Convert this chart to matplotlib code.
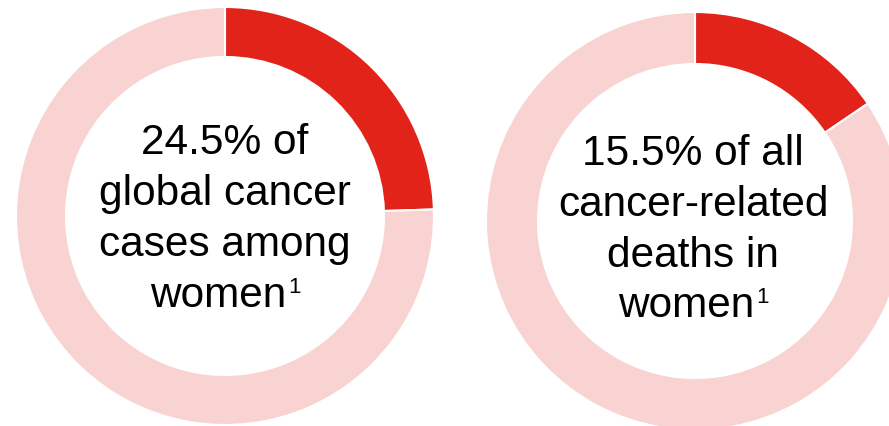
import matplotlib
matplotlib.use("Agg")
import matplotlib.pyplot as plt

# Data
cases_share = [24.5, 75.5]
deaths_share = [15.5, 84.5]
cases_lines = ["24.5% of", "global cancer", "cases among", "women"]
deaths_lines = ["15.5% of all", "cancer-related", "deaths in", "women"]
footnote_mark = "1"

RED = "#E2231A"
PINK = "#F8D3D1"
FONT = ["Liberation Sans", "DejaVu Sans"]

W, H = 889, 426
fig = plt.figure(figsize=(W / 100, H / 100), dpi=100)
ax = fig.add_axes([0, 0, 1, 1])

def py(y):
    return H - y

def fix_axes():
    ax.set_xlim(0, W)
    ax.set_ylim(0, H)
    ax.set_aspect("equal")
    ax.axis("off")

donuts = [
    (cases_share, (225, 216), 209, 50, cases_lines, 225, [154, 205, 256, 307]),
    (deaths_share, (695, 221), 209, 52, deaths_lines, 693, [165, 216, 267, 317]),
]

sup_w = 12  # approx pixel width of superscript
for vals, (cx, cy), r, w, lines, tx, baselines in donuts:
    ax.pie(vals, colors=[RED, PINK], startangle=90, counterclock=False,
           center=(cx, py(cy)), radius=r,
           wedgeprops=dict(width=w, edgecolor="white", linewidth=1.5))
    fix_axes()
    for i, (line, b) in enumerate(zip(lines, baselines)):
        if i == len(lines) - 1:
            t = ax.text(tx - sup_w / 2 - 1, py(b), line, ha="center", va="baseline",
                        fontsize=30.5, family=FONT, color="black")
            fig.canvas.draw()
            bb = t.get_window_extent()
            x_right = ax.transData.inverted().transform((bb.x1, 0))[0]
            ax.text(x_right + 2, py(b - 14), footnote_mark, ha="left", va="baseline",
                    fontsize=16, family=FONT, color="black")
        else:
            ax.text(tx, py(b), line, ha="center", va="baseline",
                    fontsize=30.5, family=FONT, color="black")

fix_axes()
fig.savefig("out.png", dpi=100)
